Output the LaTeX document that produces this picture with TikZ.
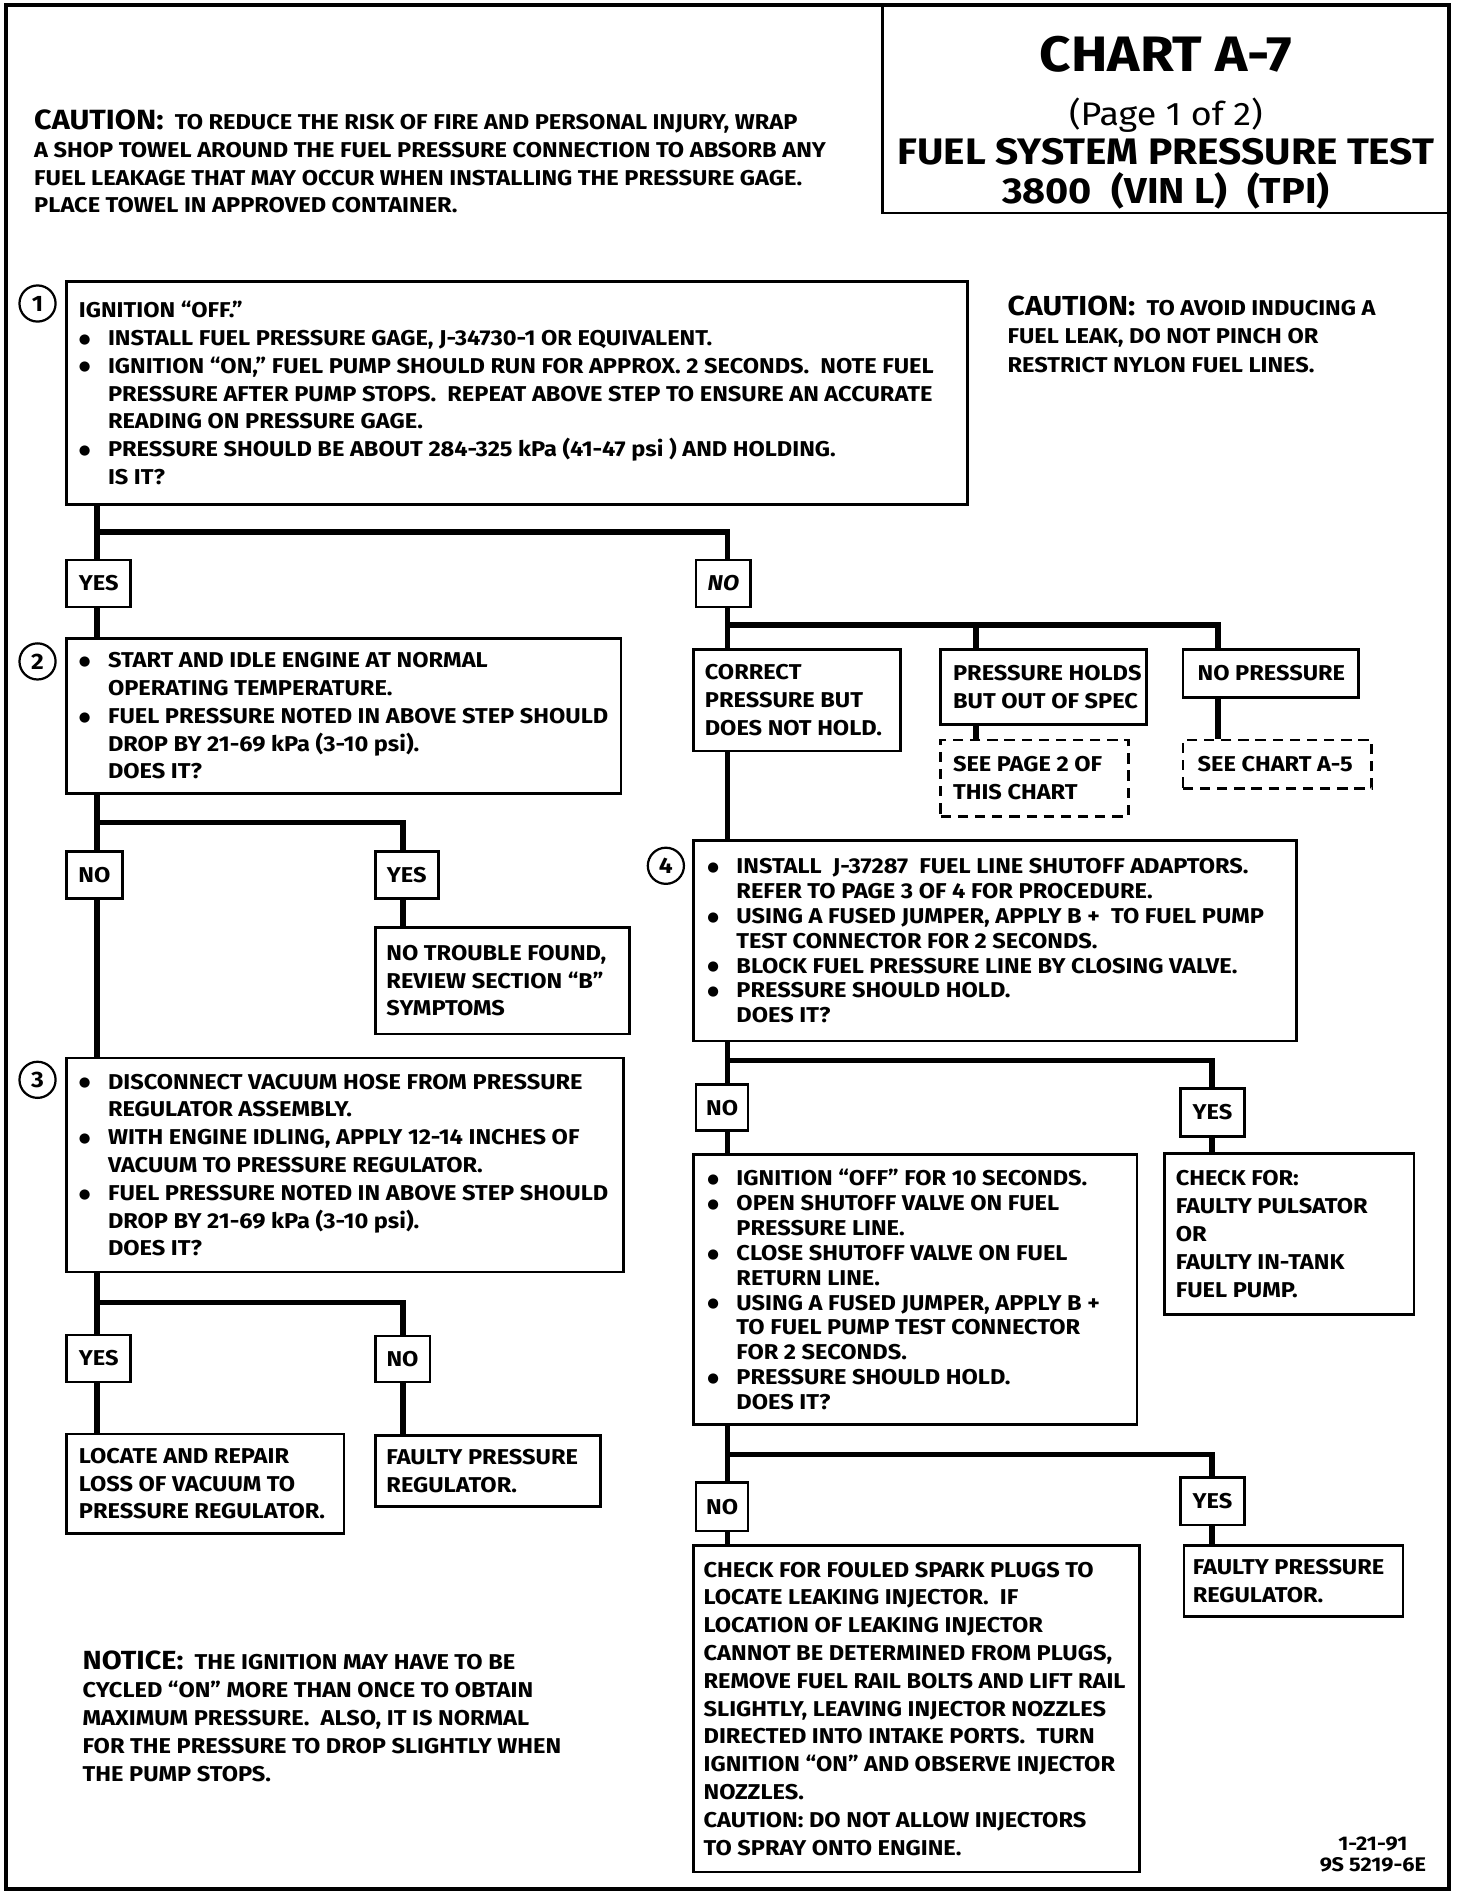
\documentclass[tikz,border=0pt]{standalone}
\usepackage{fontspec}
\setmainfont{Fira Sans}[FakeStretch=1.10]
\newfontfamily\dvs{DejaVu Sans}
\usetikzlibrary{calc}
\newcommand\bodyf{\fontsize{12.5}{16.2}\selectfont\bfseries}
\newcommand\tightf{\fontsize{12.5}{14.5}\selectfont\bfseries}
\newcommand\Bu{\makebox[0.595cm][l]{\raisebox{1.3pt}{\dvs\fontsize{7.8}{7.8}\selectfont ●}}}
\newcommand\In{\hspace*{0.595cm}}
\newcommand\mkbox[7][]{\pgfmathsetmacro\mkbw{(#5-#3)*0.0248}\pgfmathsetmacro\mkbh{(#6-#4)*0.02477}\node[bx,#1,minimum width=\mkbw cm,minimum height=\mkbh cm] (#2) at ({(#3+#5)/2},{(#4+#6)/2}) {#7};}
\tikzset{
  bx/.style={draw,line width=1.5pt,inner sep=0pt,font=\bodyf},
  dbox/.style={dash pattern=on 6pt off 4pt},
  txt/.style={anchor=west,inner sep=0pt,align=left,font=\bodyf},
  free/.style={anchor=base west,inner sep=0pt,font=\bodyf},
  ttl/.style={anchor=base,inner sep=0pt},
  conn/.style={line width=3.2pt},
  numc/.style={circle,draw,line width=1.3pt,minimum size=0.74cm,inner sep=0pt,font=\fontsize{13}{13}\selectfont\bfseries}
}
\begin{document}
\begin{tikzpicture}[x=0.0248cm,y=-0.02477cm]
\fill[white] (0,0) rectangle (1216,1568);
\useasboundingbox (0,0) rectangle (1216,1568);

% title box
\mkbox{title}{729}{4}{1197}{176}{}
\node[ttl,font=\fontsize{29}{29}\selectfont\bfseries] (t1) at (963,59) {CHART A-7};
\node[ttl,font=\fontsize{19}{19}\selectfont\mdseries] (t2) at (963,104) {(Page 1 of 2)};
\node[ttl,font=\fontsize{21.5}{21.5}\selectfont\bfseries] (t3) at (963,136) {FUEL SYSTEM PRESSURE TEST};
\node[ttl,font=\fontsize{21}{21}\selectfont\bfseries] (t4) at (963,168) {3800\hspace{0.28em} (VIN L)\hspace{0.28em} (TPI)};

% outer frame
\draw[line width=2.6pt] (5,4) rectangle (1197,1562);

% top caution
\node[free] (tc1) at (28,107) {{\fontsize{16.2}{16.2}\selectfont CAUTION:}\ \ TO REDUCE THE RISK OF FIRE AND PERSONAL INJURY, WRAP};
\node[free] (tc2) at (28,130) {A SHOP TOWEL AROUND THE FUEL PRESSURE CONNECTION TO ABSORB ANY};
\node[free] (tc3) at (28,153) {FUEL LEAKAGE THAT MAY OCCUR WHEN INSTALLING THE PRESSURE GAGE.};
\node[free] (tc4) at (28,176) {PLACE TOWEL IN APPROVED CONTAINER.};

% right caution
\node[free] (rc1) at (832,261) {{\fontsize{16}{16}\selectfont CAUTION:}\ \ TO AVOID INDUCING A};
\node[free] (rc2) at (832,284) {FUEL LEAK, DO NOT PINCH OR};
\node[free] (rc3) at (832,308) {RESTRICT NYLON FUEL LINES.};

% notice
\node[free] (nt1) at (68,1381) {{\fontsize{15.3}{15.3}\selectfont NOTICE:}\ \ THE IGNITION MAY HAVE TO BE};
\node[free] (nt2) at (68,1404) {CYCLED “ON” MORE THAN ONCE TO OBTAIN};
\node[free] (nt3) at (68,1427) {MAXIMUM PRESSURE.\ \ ALSO, IT IS NORMAL};
\node[free] (nt4) at (68,1450) {FOR THE PRESSURE TO DROP SLIGHTLY WHEN};
\node[free] (nt5) at (68,1473) {THE PUMP STOPS.};

% footer
\node[ttl,font=\fontsize{11.5}{11.5}\selectfont\bfseries] (f1) at (1134,1530) {1-21-91};
\node[ttl,font=\fontsize{11.5}{11.5}\selectfont\bfseries] (f2) at (1134,1548) {9S 5219-6E};

% boxes
\mkbox{b1}{55}{233}{799}{417}{}
\mkbox{b2}{55}{528}{513}{656}{}
\mkbox{ntf}{310}{767}{520}{855}{}
\mkbox{b3}{55}{875}{515}{1052}{}
\mkbox{lr}{55}{1186}{284}{1268}{}
\mkbox{fpr1}{310}{1187}{496}{1246}{}
\mkbox{cor}{573}{537}{744}{621}{}
\mkbox{ph}{777}{537}{947}{599}{}
\mkbox{np}{977}{537}{1122}{577}{}
\mkbox[dbox]{sp2}{777}{612}{932}{675}{}
\mkbox[dbox]{sa5}{977}{612}{1133}{652}{}
\mkbox{b4}{573}{695}{1071}{861}{}
\mkbox{b5}{573}{955}{939}{1178}{}
\mkbox{chk}{962}{954}{1168}{1087}{}
\mkbox{b6}{573}{1278}{941}{1548}{}
\mkbox{fpr2}{978}{1278}{1159}{1337}{}

% labels
\mkbox{yes1}{55}{463}{108}{502}{YES}
\mkbox{no1}{575}{463}{620}{502}{\itshape NO}
\mkbox{no2}{55}{704}{101}{743}{NO}
\mkbox{yes2}{310}{704}{362}{743}{YES}
\mkbox{yes3}{55}{1104}{108}{1143}{YES}
\mkbox{no3}{310}{1105}{355}{1143}{NO}
\mkbox{no4}{575}{897}{618}{935}{NO}
\mkbox{yes4}{975}{900}{1028}{940}{YES}
\mkbox{no5}{575}{1226}{618}{1266}{NO}
\mkbox{yes5}{975}{1222}{1028}{1261}{YES}

% number circles
\node[numc] (c1) at (31,251) {1};
\node[numc] (c2) at (31,547) {2};
\node[numc] (c3) at (31,893) {3};
\node[numc] (c4) at (550,716) {4};

% box texts
\node[txt] (b1t) at ($(b1.west)+(0.273cm,0)$) {IGNITION “OFF.”\\
\Bu INSTALL FUEL PRESSURE GAGE, J-34730-1 OR EQUIVALENT.\\
\Bu IGNITION “ON,” FUEL PUMP SHOULD RUN FOR APPROX. 2 SECONDS.\ \ NOTE FUEL\\
\In PRESSURE AFTER PUMP STOPS.\ \ REPEAT ABOVE STEP TO ENSURE AN ACCURATE\\
\In READING ON PRESSURE GAGE.\\
\Bu PRESSURE SHOULD BE ABOUT 284-325 kPa (41-47 psi ) AND HOLDING.\\
\In IS IT?};
\node[txt] (b2t) at ($(b2.west)+(0.273cm,0)$) {\Bu START AND IDLE ENGINE AT NORMAL\\
\In OPERATING TEMPERATURE.\\
\Bu FUEL PRESSURE NOTED IN ABOVE STEP SHOULD\\
\In DROP BY 21-69 kPa (3-10 psi).\\
\In DOES IT?};
\node[txt] (ntft) at ($(ntf.west)+(0.248cm,0)$) {NO TROUBLE FOUND,\\ REVIEW SECTION “B”\\ SYMPTOMS};
\node[txt] (b3t) at ($(b3.west)+(0.273cm,0)$) {\Bu DISCONNECT VACUUM HOSE FROM PRESSURE\\
\In REGULATOR ASSEMBLY.\\
\Bu WITH ENGINE IDLING, APPLY 12-14 INCHES OF\\
\In VACUUM TO PRESSURE REGULATOR.\\
\Bu FUEL PRESSURE NOTED IN ABOVE STEP SHOULD\\
\In DROP BY 21-69 kPa (3-10 psi).\\
\In DOES IT?};
\node[txt] (lrt) at ($(lr.west)+(0.273cm,0)$) {LOCATE AND REPAIR\\ LOSS OF VACUUM TO\\ PRESSURE REGULATOR.};
\node[txt] (fpr1t) at ($(fpr1.west)+(0.248cm,0)$) {FAULTY PRESSURE\\ REGULATOR.};
\node[txt] (cort) at ($(cor.west)+(0.248cm,0)$) {CORRECT\\ PRESSURE BUT\\ DOES NOT HOLD.};
\node[txt] (pht) at ($(ph.west)+(0.273cm,0)$) {PRESSURE HOLDS\\ BUT OUT OF SPEC};
\node[txt] (npt) at ($(np.west)+(0.322cm,0)$) {NO PRESSURE};
\node[txt] (sp2t) at ($(sp2.west)+(0.273cm,0)$) {SEE PAGE 2 OF\\ THIS CHART};
\node[txt] (sa5t) at ($(sa5.west)+(0.322cm,0)$) {SEE CHART A-5};
\node[txt,font=\tightf] (b4t) at ($(b4.west)+(0.3cm,0)$) {\Bu INSTALL\ \ J-37287\ \ FUEL LINE SHUTOFF ADAPTORS.\\
\In REFER TO PAGE 3 OF 4 FOR PROCEDURE.\\
\Bu USING A FUSED JUMPER, APPLY B +\ \ TO FUEL PUMP\\
\In TEST CONNECTOR FOR 2 SECONDS.\\
\Bu BLOCK FUEL PRESSURE LINE BY CLOSING VALVE.\\
\Bu PRESSURE SHOULD HOLD.\\
\In DOES IT?};
\node[txt,font=\tightf] (b5t) at ($(b5.west)+(0.3cm,0)$) {\Bu IGNITION “OFF” FOR 10 SECONDS.\\
\Bu OPEN SHUTOFF VALVE ON FUEL\\
\In PRESSURE LINE.\\
\Bu CLOSE SHUTOFF VALVE ON FUEL\\
\In RETURN LINE.\\
\Bu USING A FUSED JUMPER, APPLY B +\\
\In TO FUEL PUMP TEST CONNECTOR\\
\In FOR 2 SECONDS.\\
\Bu PRESSURE SHOULD HOLD.\\
\In DOES IT?};
\node[txt] (chkt) at ($(chk.west)+(0.248cm,0)$) {CHECK FOR:\\ FAULTY PULSATOR\\ OR\\ FAULTY IN-TANK\\ FUEL PUMP.};
\node[txt] (b6t) at ($(b6.west)+(0.223cm,0)$) {CHECK FOR FOULED SPARK PLUGS TO\\
LOCATE LEAKING INJECTOR.\ \ IF\\
LOCATION OF LEAKING INJECTOR\\
CANNOT BE DETERMINED FROM PLUGS,\\
REMOVE FUEL RAIL BOLTS AND LIFT RAIL\\
SLIGHTLY, LEAVING INJECTOR NOZZLES\\
DIRECTED INTO INTAKE PORTS.\ \ TURN\\
IGNITION “ON” AND OBSERVE INJECTOR\\
NOZZLES.\\
CAUTION: DO NOT ALLOW INJECTORS\\
TO SPRAY ONTO ENGINE.};
\node[txt] (fpr2t) at ($(fpr2.west)+(0.198cm,0)$) {FAULTY PRESSURE\\ REGULATOR.};

% connector guide coordinates
\coordinate (lx) at (80,0);
\coordinate (l2x) at (333,0);
\coordinate (mx) at (601,0);
\coordinate (phx) at (806,0);
\coordinate (npx) at (1006,0);
\coordinate (rx) at (1001,0);
\coordinate (j1) at (80,440);
\coordinate (j2) at (80,680);
\coordinate (j3) at (80,1077);
\coordinate (j4) at (601,517);
\coordinate (j5) at (601,877);
\coordinate (j6) at (601,1203);

% left column
\draw[conn] (lx |- b1.south) -- (lx |- yes1.north);
\draw[conn] (j1) -| (mx |- no1.north);
\draw[conn] (lx |- yes1.south) -- (lx |- b2.north);
\draw[conn] (lx |- b2.south) -- (lx |- no2.north);
\draw[conn] (j2) -| (l2x |- yes2.north);
\draw[conn] (l2x |- yes2.south) -- (l2x |- ntf.north);
\draw[conn] (lx |- no2.south) -- (lx |- b3.north);
\draw[conn] (lx |- b3.south) -- (lx |- yes3.north);
\draw[conn] (j3) -| (l2x |- no3.north);
\draw[conn] (lx |- yes3.south) -- (lx |- lr.north);
\draw[conn] (l2x |- no3.south) -- (l2x |- fpr1.north);

% right column
\draw[conn] (mx |- no1.south) -- (mx |- cor.north);
\draw[conn] (j4) -| (phx |- ph.north);
\draw[conn] (j4) -| (npx |- np.north);
\draw[conn] (phx |- ph.south) -- (phx |- sp2.north);
\draw[conn] (npx |- np.south) -- (npx |- sa5.north);
\draw[conn] (mx |- cor.south) -- (mx |- b4.north);
\draw[conn] (mx |- b4.south) -- (mx |- no4.north);
\draw[conn] (j5) -| (rx |- yes4.north);
\draw[conn] (mx |- no4.south) -- (mx |- b5.north);
\draw[conn] (rx |- yes4.south) -- (rx |- chk.north);
\draw[conn] (mx |- b5.south) -- (mx |- no5.north);
\draw[conn] (j6) -| (rx |- yes5.north);
\draw[conn] (mx |- no5.south) -- (mx |- b6.north);
\draw[conn] (rx |- yes5.south) -- (rx |- fpr2.north);
\end{tikzpicture}
\end{document}
